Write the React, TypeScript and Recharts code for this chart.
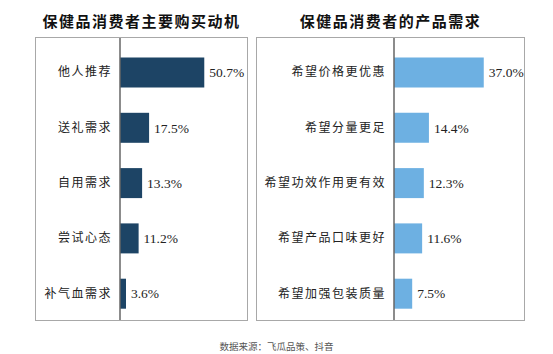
import React from 'react';
import { BarChart, Bar, XAxis, YAxis, LabelList } from 'recharts';

// 保健品消费者主要购买动机
const motiveLabels = ['他人推荐', '送礼需求', '自用需求', '尝试心态', '补气血需求'];
const motiveValues = [50.7, 17.5, 13.3, 11.2, 3.6];

// 保健品消费者的产品需求
const needLabels = ['希望价格更优惠', '希望分量更足', '希望功效作用更有效', '希望产品口味更好', '希望加强包装质量'];
const needValues = [37.0, 14.4, 12.3, 11.6, 7.5];

const cjk = '"Noto Sans CJK SC", "Noto Sans", sans-serif';
const serif = '"Liberation Serif", "DejaVu Serif", serif';

interface PanelProps {
  title: string;
  labels: string[];
  values: number[];
  color: string;
  left: number;
  width: number;
  axisWidth: number;
  max: number;
}

function Panel({ title, labels, values, color, left, width, axisWidth, max }: PanelProps) {
  const data = labels.map((name, i) => ({ name, value: values[i] }));
  const top = 37;
  const height = 284;

  return (
    <>
      <div
        style={{
          position: 'absolute',
          left,
          top: 9,
          width,
          textAlign: 'center',
          fontFamily: cjk,
          fontWeight: 700,
          fontSize: 15,
          letterSpacing: 1.5,
          color: '#111',
          lineHeight: '24px',
        }}
      >
        {title}
      </div>
      <div style={{ position: 'absolute', left, top }}>
        <BarChart
          width={width}
          height={height}
          data={data}
          layout="vertical"
          margin={{ top: 0, right: 0, bottom: 0, left: 0 }}
        >
          <XAxis type="number" domain={[0, max]} hide />
          <YAxis
            type="category"
            dataKey="name"
            width={axisWidth}
            padding={{ top: 7.5, bottom: 0 }}
            tickLine={false}
            tickSize={0}
            tickMargin={8}
            axisLine={{ stroke: '#666', strokeWidth: 1.5 }}
            tick={{ fontFamily: cjk, fontSize: 12, fill: '#222', letterSpacing: 1.5 }}
            interval={0}
          />
          <Bar dataKey="value" fill={color} barSize={30} isAnimationActive={false}>
            <LabelList
              dataKey="value"
              position="right"
              offset={5}
              formatter={(v: number) => `${v.toFixed(1)}%`}
              style={{ fontFamily: serif, fontSize: 13.5, fill: '#222' }}
            />
          </Bar>
        </BarChart>
      </div>
      <div
        style={{
          position: 'absolute',
          left,
          top,
          width,
          height,
          boxSizing: 'border-box',
          border: '1.5px solid #a8a8a8',
          pointerEvents: 'none',
        }}
      />
    </>
  );
}

export default function App() {
  return (
    <div style={{ position: 'fixed', left: 0, top: 0, width: 553, height: 354, background: '#fff' }}>
      <Panel
        title="保健品消费者主要购买动机"
        labels={motiveLabels}
        values={motiveValues}
        color="#1d4465"
        left={35}
        width={213}
        axisWidth={85}
        max={77}
      />
      <Panel
        title="保健品消费者的产品需求"
        labels={needLabels}
        values={needValues}
        color="#6db0e2"
        left={256}
        width={269}
        axisWidth={138}
        max={54}
      />
      <div
        style={{
          position: 'absolute',
          left: 0,
          width: 553,
          top: 339,
          textAlign: 'center',
          fontFamily: cjk,
          fontSize: 9.5,
          color: '#555',
        }}
      >
        数据来源：飞瓜品策、抖音
      </div>
    </div>
  );
}
